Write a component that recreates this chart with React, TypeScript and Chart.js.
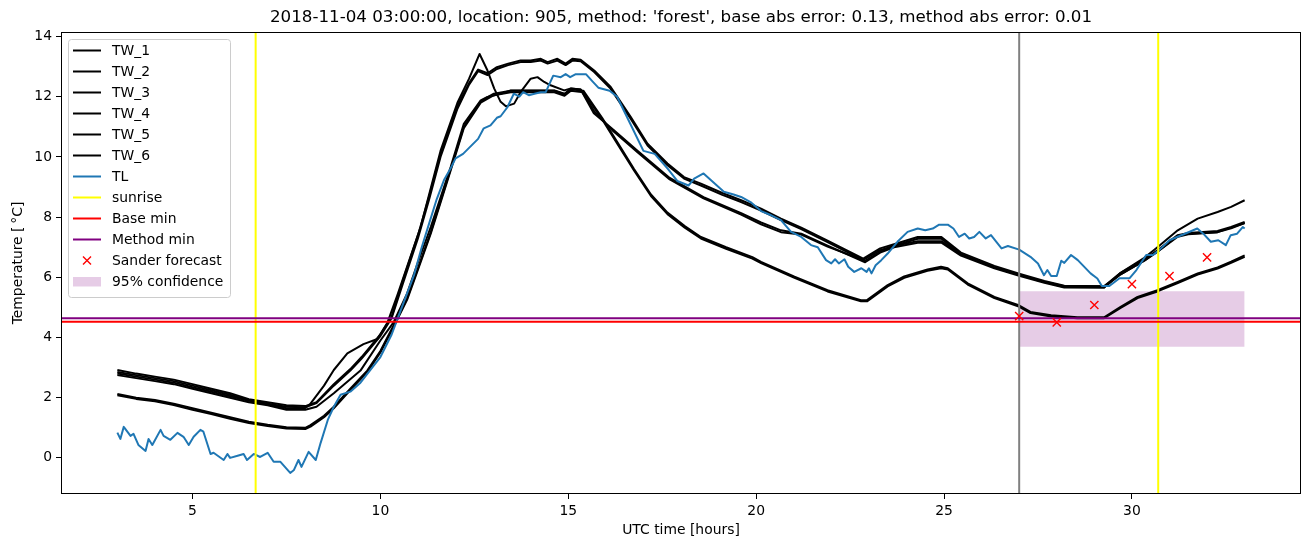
import { useEffect, useRef } from 'react';
import { Chart, registerables } from 'chart.js';

Chart.register(...registerables);

const TITLE = "2018-11-04 03:00:00, location: 905, method: 'forest', base abs error: 0.13, method abs error: 0.01";
const X_LABEL = 'UTC time [hours]';
const Y_LABEL = 'Temperature [\u2009\u00B0C]';
const X_TICKS = [5, 10, 15, 20, 25, 30];
const Y_TICKS = [0, 2, 4, 6, 8, 10, 12, 14];
const X_MIN = 1.5;
const X_MAX = 34.5;
const Y_MIN = -1.2;
const Y_MAX = 14.15;

const TW_1: number[][] = [[3,2.92],[3.5,2.8],[4,2.7],[4.5,2.6],[5,2.45],[5.5,2.3],[6,2.15],[6.5,1.95],[7,1.85],[7.5,1.75],[8,1.72],[8.3,1.85],[8.76,2.45],[9.2,2.95],[9.5,3.35],[10,4.1],[10.3,4.7],[10.6,5.9],[11,7.4],[11.3,8.7],[11.6,10.1],[12.05,11.7],[12.36,12.45],[12.6,12.9],[12.85,12.78],[13.1,12.98],[13.4,13.1],[13.73,13.2],[14.0,13.2],[14.27,13.26],[14.45,13.15],[14.71,13.26],[14.93,13.1],[15.11,13.26],[15.33,13.23],[15.69,12.87],[16.13,12.32],[16.66,11.33],[17.11,10.44],[17.64,9.78],[18.08,9.33],[18.53,9.11],[19.1,8.8],[19.6,8.56],[20.13,8.28],[20.66,7.95],[21.2,7.65],[21.9,7.22],[22.4,6.9],[22.85,6.62],[23.3,6.96],[23.67,7.1],[24.3,7.34],[24.93,7.34],[25.45,6.82],[26.34,6.38],[27.0,6.12],[27.67,5.88],[28.2,5.72],[29.26,5.7],[29.7,6.15],[30.33,6.6],[30.68,6.9],[31.22,7.4],[31.5,7.47],[32.28,7.54],[32.64,7.67],[33,7.84]];

const TW_2: number[][] = [[3,2.85],[3.5,2.75],[4,2.65],[4.5,2.55],[5,2.4],[5.5,2.25],[6,2.1],[6.5,1.92],[7,1.8],[7.5,1.7],[8,1.68],[8.3,1.82],[8.76,2.4],[9.2,2.9],[9.5,3.3],[10,4.05],[10.3,4.65],[10.6,5.8],[11,7.3],[11.3,8.6],[11.6,10.0],[12.05,11.6],[12.36,12.4],[12.6,12.85],[12.85,12.72],[13.1,12.92],[13.4,13.05],[13.73,13.15],[14.0,13.15],[14.27,13.2],[14.45,13.1],[14.71,13.2],[14.93,13.05],[15.11,13.2],[15.33,13.18],[15.69,12.82],[16.13,12.26],[16.66,11.27],[17.11,10.38],[17.64,9.72],[18.08,9.28],[18.53,9.05],[19.1,8.74],[19.6,8.5],[20.13,8.22],[20.66,7.9],[21.2,7.6],[21.9,7.17],[22.4,6.85],[22.85,6.58],[23.3,6.9],[23.67,7.05],[24.3,7.28],[24.93,7.28],[25.45,6.77],[26.34,6.33],[27.0,6.08],[27.67,5.84],[28.2,5.68],[29.26,5.66],[29.7,6.1],[30.33,6.55],[30.68,6.85],[31.22,7.35],[31.5,7.43],[32.28,7.5],[32.64,7.63],[33,7.8]];

const TW_3: number[][] = [[3,2.8],[3.5,2.7],[4,2.6],[4.5,2.5],[5,2.35],[5.5,2.2],[6,2.05],[6.5,1.9],[7,1.78],[7.5,1.65],[8,1.66],[8.14,1.8],[8.5,2.4],[8.76,2.92],[9.12,3.47],[9.55,3.78],[9.92,3.95],[10.19,4.5],[10.45,5.4],[11.07,7.67],[11.6,10.2],[12.05,11.8],[12.36,12.6],[12.64,13.42],[12.85,12.87],[13.03,12.27],[13.2,11.83],[13.34,11.68],[13.56,11.77],[13.73,12.15],[14.0,12.6],[14.18,12.65],[14.36,12.49],[14.53,12.38],[14.89,12.21],[15.07,12.27],[15.33,12.24],[15.68,11.45],[16.2,10.9],[16.85,10.2],[17.7,9.3],[18.6,8.66],[19.6,8.13],[20.13,7.82],[20.66,7.56],[21.2,7.45],[21.9,7.05],[22.9,6.5],[23.3,6.82],[23.67,7.0],[24.3,7.15],[24.93,7.15],[25.45,6.72],[26.34,6.3],[27.0,6.05],[27.67,5.82],[28.2,5.66],[29.26,5.66],[29.7,6.15],[30.33,6.65],[30.68,7.0],[31.22,7.56],[31.75,7.95],[32.28,8.17],[32.64,8.34],[33,8.56]];

const TW_4: number[][] = [[3,2.75],[3.5,2.65],[4,2.55],[4.5,2.45],[5,2.3],[5.5,2.15],[6,2.0],[6.5,1.85],[7,1.75],[7.5,1.6],[8,1.6],[8.3,1.7],[8.76,2.15],[9.47,2.9],[10.0,3.9],[10.35,4.5],[10.71,5.46],[11.0,6.5],[11.34,7.67],[11.87,9.66],[12.22,11.1],[12.67,11.88],[12.85,11.99],[13.2,12.1],[13.47,12.21],[14.09,12.21],[14.63,12.21],[14.9,12.1],[15.07,12.27],[15.33,12.24],[15.7,11.5],[16.2,10.85],[16.85,10.15],[17.7,9.25],[18.6,8.62],[19.6,8.08],[20.13,7.76],[20.66,7.5],[21.2,7.42],[21.9,7.02],[22.9,6.55],[23.3,6.85],[23.67,7.05],[24.3,7.2],[24.93,7.2],[25.45,6.76],[26.34,6.33],[27.0,6.08],[27.67,5.85],[28.2,5.7],[29.26,5.7],[29.7,6.1],[30.33,6.55],[30.68,6.85],[31.22,7.38],[31.5,7.45],[32.28,7.5],[32.64,7.65],[33,7.8]];

const TW_5: number[][] = [[3,2.12],[3.5,2.0],[4,1.92],[4.5,1.8],[5,1.65],[5.5,1.5],[6,1.35],[6.5,1.2],[7,1.1],[7.5,1.02],[8,1.0],[8.14,1.09],[8.5,1.4],[8.76,1.7],[9.2,2.3],[9.65,2.9],[10.0,3.55],[10.35,4.4],[10.71,5.3],[11.0,6.3],[11.34,7.5],[11.87,9.6],[12.22,11.0],[12.67,11.85],[13.02,12.1],[13.47,12.2],[14.09,12.2],[14.63,12.2],[14.9,12.08],[15.07,12.25],[15.4,12.2],[15.9,11.3],[16.3,10.5],[16.75,9.6],[17.2,8.75],[17.64,8.15],[18.1,7.7],[18.53,7.34],[19.2,7.0],[19.9,6.67],[20.13,6.51],[21.02,6.02],[21.9,5.57],[22.79,5.24],[22.95,5.24],[23.5,5.74],[23.94,6.03],[24.56,6.26],[24.92,6.35],[25.1,6.3],[25.63,5.8],[26.34,5.35],[26.97,5.08],[27.3,4.85],[27.85,4.74],[28.55,4.67],[29.26,4.67],[29.7,5.02],[30.15,5.35],[30.68,5.57],[31.22,5.85],[31.75,6.13],[32.28,6.33],[32.64,6.52],[33,6.73]];

const TW_6: number[][] = [[3,2.08],[3.5,1.96],[4,1.88],[4.5,1.76],[5,1.6],[5.5,1.46],[6,1.3],[6.5,1.16],[7,1.06],[7.5,0.98],[8,0.96],[8.14,1.04],[8.5,1.35],[8.76,1.65],[9.2,2.25],[9.65,2.85],[10.0,3.5],[10.35,4.35],[10.71,5.25],[11.0,6.25],[11.34,7.45],[11.87,9.55],[12.22,10.95],[12.67,11.8],[13.02,12.05],[13.47,12.15],[14.09,12.15],[14.63,12.15],[14.9,12.03],[15.07,12.2],[15.4,12.15],[15.9,11.25],[16.3,10.45],[16.75,9.55],[17.2,8.7],[17.64,8.1],[18.1,7.65],[18.53,7.29],[19.2,6.95],[19.9,6.62],[20.13,6.47],[21.02,5.98],[21.9,5.53],[22.79,5.2],[22.95,5.2],[23.5,5.7],[23.94,5.98],[24.56,6.22],[24.92,6.3],[25.1,6.26],[25.63,5.76],[26.34,5.31],[26.97,5.04],[27.3,4.81],[27.85,4.7],[28.55,4.64],[29.26,4.64],[29.7,4.98],[30.15,5.31],[30.68,5.53],[31.22,5.81],[31.75,6.09],[32.28,6.29],[32.64,6.48],[33,6.68]];

const TL: number[][] = [[3.0,0.84],[3.08,0.63],[3.17,1.03],[3.35,0.73],[3.43,0.8],[3.56,0.43],[3.75,0.23],[3.83,0.63],[3.93,0.43],[4.15,0.93],[4.23,0.73],[4.41,0.6],[4.6,0.83],[4.76,0.7],[4.9,0.43],[5.03,0.7],[5.21,0.93],[5.29,0.87],[5.48,0.13],[5.56,0.17],[5.83,-0.07],[5.93,0.13],[6.0,0.0],[6.2,0.07],[6.36,0.13],[6.45,-0.07],[6.63,0.13],[6.8,0.03],[7.0,0.17],[7.16,-0.13],[7.34,-0.13],[7.6,-0.5],[7.7,-0.4],[7.82,-0.07],[7.9,-0.3],[8.09,0.2],[8.28,-0.07],[8.41,0.5],[8.6,1.26],[8.76,1.7],[8.94,2.1],[9.2,2.2],[9.47,2.5],[9.74,2.93],[10.0,3.35],[10.3,4.1],[10.6,5.1],[10.9,6.1],[11.1,7.0],[11.3,7.8],[11.5,8.6],[11.7,9.25],[11.87,9.62],[12.0,9.95],[12.2,10.1],[12.4,10.35],[12.6,10.6],[12.75,10.95],[12.93,11.05],[13.1,11.3],[13.2,11.35],[13.38,11.65],[13.55,12.1],[13.7,12.0],[13.8,12.15],[13.95,12.05],[14.1,12.1],[14.27,12.15],[14.4,12.15],[14.6,12.7],[14.8,12.65],[14.93,12.75],[15.05,12.65],[15.2,12.75],[15.47,12.75],[15.65,12.5],[15.8,12.3],[16.1,12.2],[16.3,12.0],[16.65,11.1],[17.0,10.2],[17.3,10.1],[17.65,9.6],[17.9,9.2],[18.2,9.05],[18.35,9.28],[18.6,9.45],[19.0,9.0],[19.14,8.84],[19.4,8.75],[19.6,8.67],[19.85,8.5],[20.13,8.2],[20.4,8.06],[20.66,7.9],[20.93,7.51],[21.2,7.34],[21.46,7.07],[21.64,7.0],[21.86,6.57],[22.0,6.46],[22.1,6.6],[22.2,6.46],[22.35,6.6],[22.45,6.35],[22.61,6.18],[22.8,6.3],[22.94,6.18],[23.0,6.3],[23.07,6.13],[23.18,6.4],[23.33,6.57],[23.5,6.79],[23.76,7.18],[24.03,7.51],[24.3,7.62],[24.5,7.56],[24.7,7.62],[24.87,7.75],[25.1,7.75],[25.25,7.62],[25.4,7.34],[25.55,7.45],[25.67,7.29],[25.8,7.34],[25.94,7.51],[26.11,7.29],[26.25,7.4],[26.53,6.96],[26.7,7.04],[27.0,6.92],[27.3,6.68],[27.5,6.46],[27.66,6.07],[27.75,6.24],[27.85,6.04],[28.0,6.04],[28.12,6.55],[28.2,6.48],[28.38,6.74],[28.56,6.57],[28.9,6.13],[29.08,5.96],[29.2,5.71],[29.4,5.71],[29.67,5.97],[29.94,5.97],[30.12,6.24],[30.38,6.74],[30.56,6.74],[30.74,6.92],[31.0,7.23],[31.2,7.34],[31.38,7.43],[31.74,7.62],[31.9,7.45],[32.1,7.18],[32.3,7.23],[32.5,7.07],[32.63,7.4],[32.8,7.45],[32.95,7.67],[33.0,7.62]];

const SUNRISE_HOURS = [6.68, 30.7];
const FORECAST_HOUR = 27.0;
const BASE_MIN = 4.52;
const METHOD_MIN = 4.64;
const SANDER_HOURS = [27, 28, 29, 30, 31, 32];
const SANDER_VALUES = [4.71, 4.5, 5.08, 5.77, 6.04, 6.66];
const CONF_HOURS = [27, 33];
const CONF_LOW = 3.69;
const CONF_HIGH = 5.54;

const TW_SERIES = [TW_1, TW_2, TW_3, TW_4, TW_5, TW_6];
const TW_NAMES = ['TW_1', 'TW_2', 'TW_3', 'TW_4', 'TW_5', 'TW_6'];

const FONT = '"DejaVu Sans", sans-serif';
const CONF_COLOR = 'rgba(128,0,128,0.2)';

const LEGEND_ITEMS: { label: string; kind: string; color: string }[] = [
  ...TW_NAMES.map((n) => ({ label: n, kind: 'line', color: '#000000' })),
  { label: 'TL', kind: 'line', color: '#1f77b4' },
  { label: 'sunrise', kind: 'line', color: '#ffff00' },
  { label: 'Base min', kind: 'line', color: '#ff0000' },
  { label: 'Method min', kind: 'line', color: '#800080' },
  { label: 'Sander forecast', kind: 'x', color: '#ff0000' },
  { label: '95% confidence', kind: 'patch', color: CONF_COLOR },
];

const toPts = (arr: number[][]) => arr.map((p) => ({ x: p[0], y: p[1] }));

const decorPlugin = {
  id: 'mplDecor',
  afterDraw(chart: any) {
    const ctx = chart.ctx as CanvasRenderingContext2D;
    const ca = chart.chartArea;
    ctx.save();
    ctx.strokeStyle = '#000';
    ctx.lineWidth = 1;
    ctx.strokeRect(Math.round(ca.left) + 0.5, Math.round(ca.top) + 0.5, Math.round(ca.right - ca.left) - 1, Math.round(ca.bottom - ca.top) - 1);
    ctx.fillStyle = '#000';
    ctx.textAlign = 'center';
    ctx.textBaseline = 'middle';
    ctx.font = `16.7px ${FONT}`;
    ctx.fillText(TITLE, (ca.left + ca.right) / 2, 18);
    ctx.font = `13.9px ${FONT}`;
    ctx.fillText(X_LABEL, (ca.left + ca.right) / 2, 530);
    ctx.save();
    ctx.translate(18, (ca.top + ca.bottom) / 2);
    ctx.rotate(-Math.PI / 2);
    ctx.fillText(Y_LABEL, 0, 0);
    ctx.restore();
    const bx = 68, by = 39, bw = 162, bh = 258;
    ctx.beginPath();
    (ctx as any).roundRect(bx + 0.5, by + 0.5, bw, bh, 3);
    ctx.fillStyle = 'rgba(255,255,255,0.8)';
    ctx.fill();
    ctx.strokeStyle = '#cccccc';
    ctx.lineWidth = 1;
    ctx.stroke();
    ctx.textAlign = 'left';
    ctx.textBaseline = 'middle';
    LEGEND_ITEMS.forEach((it, i) => {
      const cy = 50.5 + i * 21;
      if (it.kind === 'line') {
        ctx.strokeStyle = it.color;
        ctx.lineWidth = 2;
        ctx.beginPath();
        ctx.moveTo(73, cy);
        ctx.lineTo(101, cy);
        ctx.stroke();
      } else if (it.kind === 'x') {
        ctx.strokeStyle = it.color;
        ctx.lineWidth = 1.4;
        const r = 4;
        ctx.beginPath();
        ctx.moveTo(87 - r, cy - r);
        ctx.lineTo(87 + r, cy + r);
        ctx.moveTo(87 - r, cy + r);
        ctx.lineTo(87 + r, cy - r);
        ctx.stroke();
      } else {
        ctx.fillStyle = it.color;
        ctx.fillRect(73, cy - 4.5, 28, 9.5);
      }
      ctx.fillStyle = '#000';
      ctx.font = `13.9px ${FONT}`;
      ctx.fillText(it.label, 112, cy + 1);
    });
    ctx.restore();
  },
};

export default function App() {
  const ref = useRef<HTMLCanvasElement | null>(null);
  useEffect(() => {
    if (!ref.current) return;
    Chart.defaults.font.family = FONT;
    Chart.defaults.font.size = 13.9;
    Chart.defaults.color = '#000';

    const datasets: any[] = [];
    datasets.push({
      label: '95% confidence',
      data: CONF_HOURS.map((h) => ({ x: h, y: CONF_HIGH })),
      borderWidth: 0,
      borderColor: 'rgba(0,0,0,0)',
      backgroundColor: CONF_COLOR,
      fill: { value: CONF_LOW },
      pointRadius: 0,
    });
    TW_SERIES.forEach((s, i) => {
      datasets.push({ label: TW_NAMES[i], data: toPts(s), borderColor: '#000000', borderWidth: 2, pointRadius: 0, fill: false });
    });
    datasets.push({ label: 'TL', data: toPts(TL), borderColor: '#1f77b4', borderWidth: 2, pointRadius: 0, fill: false });
    datasets.push({ label: 'forecast', data: [{ x: FORECAST_HOUR, y: Y_MIN }, { x: FORECAST_HOUR, y: Y_MAX }], borderColor: '#808080', borderWidth: 2, pointRadius: 0, fill: false });
    SUNRISE_HOURS.forEach((h) => {
      datasets.push({ label: 'sunrise', data: [{ x: h, y: Y_MIN }, { x: h, y: Y_MAX }], borderColor: '#ffff00', borderWidth: 2, pointRadius: 0, fill: false });
    });
    datasets.push({ label: 'Base min', data: [{ x: X_MIN, y: BASE_MIN }, { x: X_MAX, y: BASE_MIN }], borderColor: '#ff0000', borderWidth: 2, pointRadius: 0, fill: false });
    datasets.push({ label: 'Method min', data: [{ x: X_MIN, y: METHOD_MIN }, { x: X_MAX, y: METHOD_MIN }], borderColor: '#800080', borderWidth: 2, pointRadius: 0, fill: false });
    datasets.push({
      label: 'Sander forecast',
      data: SANDER_HOURS.map((h, i) => ({ x: h, y: SANDER_VALUES[i] })),
      showLine: false,
      pointStyle: 'crossRot',
      pointRadius: 5.8,
      pointBorderColor: '#ff0000',
      pointBackgroundColor: '#ff0000',
      pointBorderWidth: 1.4,
      borderColor: '#ff0000',
      fill: false,
    });
    const N = datasets.length;
    datasets.forEach((d, i) => {
      d.order = N - i;
      d.borderJoinStyle = 'round';
      d.tension = 0;
    });

    const chart = new Chart(ref.current, {
      type: 'line',
      data: { datasets },
      plugins: [decorPlugin],
      options: {
        animation: false,
        responsive: false,
        devicePixelRatio: 1,
        parsing: false as any,
        layout: { padding: { top: 32, right: 9, bottom: 0, left: 0 } },
        plugins: {
          legend: { display: false },
          title: { display: false },
          tooltip: { enabled: false },
        },
        scales: {
          x: {
            type: 'linear',
            min: X_MIN,
            max: X_MAX,
            afterBuildTicks: (scale: any) => {
              scale.ticks = X_TICKS.map((v) => ({ value: v }));
            },
            afterFit: (scale: any) => {
              scale.height = 53;
            },
            grid: { display: true, drawOnChartArea: false, drawTicks: true, tickLength: 5, color: '#000', tickColor: '#000' },
            border: { display: false },
            ticks: { padding: 4, color: '#000', font: { size: 13.9, family: FONT }, maxRotation: 0 },
          },
          y: {
            type: 'linear',
            min: Y_MIN,
            max: Y_MAX,
            afterBuildTicks: (scale: any) => {
              scale.ticks = Y_TICKS.map((v) => ({ value: v }));
            },
            afterFit: (scale: any) => {
              scale.width = 61;
            },
            grid: { display: true, drawOnChartArea: false, drawTicks: true, tickLength: 5, color: '#000', tickColor: '#000' },
            border: { display: false },
            ticks: { padding: 4, color: '#000', font: { size: 13.9, family: FONT } },
          },
        },
      },
    });
    return () => chart.destroy();
  }, []);

  return (
    <canvas
      ref={ref}
      width={1310}
      height={547}
      style={{ position: 'absolute', left: 0, top: 0, width: 1310, height: 547 }}
    />
  );
}
